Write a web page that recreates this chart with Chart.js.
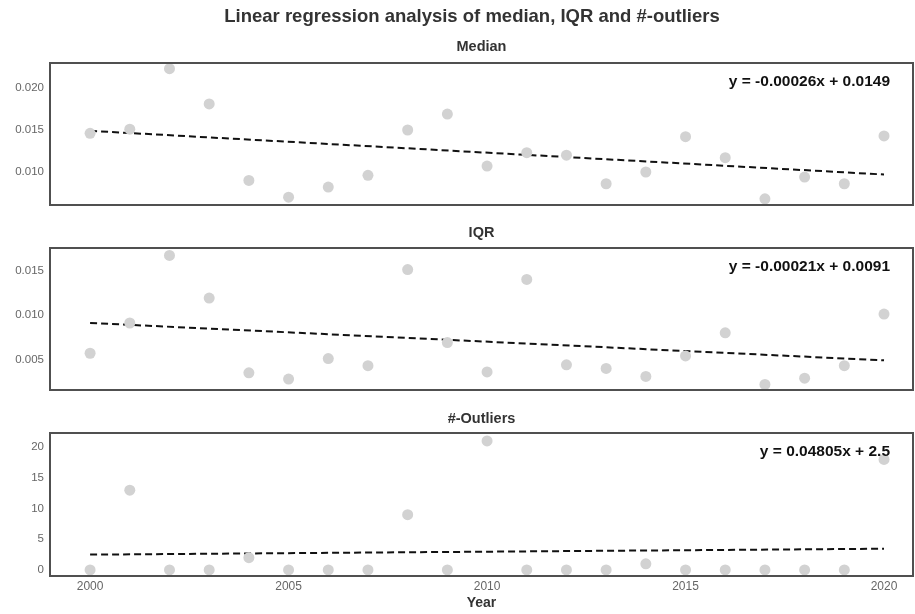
<!DOCTYPE html>
<html>
<head>
<meta charset="utf-8">
<script src="https://cdn.jsdelivr.net/npm/chart.js@4.4.1/dist/chart.umd.min.js"></script>
<style>
  body { margin: 0; background: #fff; }
  .wrap { position: relative; width: 915px; height: 614px; }
  canvas { position: absolute; left: 0; }
</style>
</head>
<body>
<div class="wrap">
  <canvas id="c1" width="915" height="212" style="top:0"></canvas>
  <canvas id="c2" width="915" height="186" style="top:212px"></canvas>
  <canvas id="c3" width="915" height="216" style="top:398px"></canvas>
</div>
<script>
// data
const years = [2000, 2001, 2002, 2003, 2004, 2005, 2006, 2007, 2008, 2009, 2010,
               2011, 2012, 2013, 2014, 2015, 2016, 2017, 2018, 2019, 2020]
const medianValues = [0.0146, 0.0151, 0.0223, 0.0181, 0.0090, 0.0070, 0.0082, 0.0096, 0.0150, 0.0169, 0.0107,
                      0.0123, 0.0120, 0.0086, 0.0100, 0.0142, 0.0117, 0.0068, 0.0094, 0.0086, 0.0143]
const iqrValues = [0.0057, 0.0091, 0.0167, 0.0119, 0.0035, 0.0028, 0.0051, 0.0043, 0.0151, 0.0069, 0.0036,
                   0.0140, 0.0044, 0.0040, 0.0031, 0.0054, 0.0080, 0.0022, 0.0029, 0.0043, 0.0101]
const outlierValues = [0, 13, 0, 0, 2, 0, 0, 0, 9, 0, 21,
                       0, 0, 0, 1, 0, 0, 0, 0, 0, 18]

// regression line ends (2000 and 2020)
const trendYears = [2000, 2020]
const medianTrend = [0.0149, 0.0097]
const iqrTrend = [0.0091, 0.0049]
const outlierTrend = [2.5, 3.46]

const medianTicks = [0.010, 0.015, 0.020]
const iqrTicks = [0.005, 0.010, 0.015]
const outlierTicks = [0, 5, 10, 15, 20]
const yearTicks = [2000, 2005, 2010, 2015, 2020]

const mainTitle = 'Linear regression analysis of median, IQR and #-outliers'

const FONT = '"Liberation Sans", Arial, sans-serif'
Chart.defaults.font.family = FONT
Chart.defaults.animation = false

function pts(xs, ys) {
    return xs.map((x, i) => ({ x: x, y: ys[i] }))
}

// frame, panel titles and the equation text
const panelDeco = {
    id: 'panelDeco',
    afterDraw(chart, args, opts) {
        const ctx = chart.ctx
        const a = chart.chartArea
        ctx.save()
        ctx.strokeStyle = '#505050'
        ctx.lineWidth = 2
        ctx.strokeRect(a.left, a.top, a.right - a.left, a.bottom - a.top)
        ctx.textAlign = 'center'
        ctx.textBaseline = 'middle'
        const cx = (a.left + a.right) / 2
        if (opts.main) {
            ctx.fillStyle = '#333'
            ctx.font = 'bold 18.5px ' + FONT
            ctx.fillText(opts.main, opts.mainX, opts.mainY)
        }
        ctx.fillStyle = '#333'
        ctx.font = 'bold 14.5px ' + FONT
        ctx.fillText(opts.title, cx, opts.titleY)
        ctx.fillStyle = '#111'
        ctx.font = 'bold 15.5px ' + FONT
        ctx.textAlign = 'right'
        ctx.fillText(opts.eq, a.right - 23, a.top + 19)
        ctx.restore()
    }
}

function makePanel(id, values, trend, ticks, yMin, yMax, deco, pad, showX) {
    const ctx = document.getElementById(id).getContext('2d')
    return new Chart(ctx, {
        type: 'scatter',
        data: {
            datasets: [{
                data: pts(years, values),
                backgroundColor: '#d2d2d2',
                borderWidth: 0,
                pointRadius: 5.5
            }, {
                type: 'line',
                data: pts(trendYears, trend),
                borderColor: '#111',
                borderWidth: 2,
                borderDash: [7, 4],
                pointRadius: 0,
                fill: false
            }]
        },
        options: {
            responsive: false,
            layout: { padding: pad, autoPadding: false },
            plugins: {
                legend: { display: false },
                tooltip: { enabled: false },
                panelDeco: deco
            },
            scales: {
                x: {
                    type: 'linear',
                    min: 1998.99,
                    max: 2020.73,
                    display: showX,
                    grid: { display: false, drawTicks: false },
                    border: { display: false },
                    afterBuildTicks: (s) => { s.ticks = yearTicks.map(v => ({ value: v })) },
                    afterFit: (s) => { if (showX) s.height = 38 },
                    ticks: {
                        color: '#666',
                        font: { size: 12 },
                        padding: 3,
                        maxRotation: 0,
                        callback: (v) => String(v)
                    },
                    title: {
                        display: true,
                        text: 'Year',
                        color: '#333',
                        font: { size: 14, weight: 'bold' },
                        padding: { top: 0, bottom: 2 }
                    }
                },
                y: {
                    min: yMin,
                    max: yMax,
                    grid: { display: false, drawTicks: false },
                    border: { display: false },
                    afterBuildTicks: (s) => { s.ticks = ticks.map(v => ({ value: v })) },
                    afterFit: (s) => {
                        s.width = 50
                        s.paddingTop = 0
                        s.paddingBottom = 0
                    },
                    ticks: {
                        color: '#666',
                        font: { size: 11.5 },
                        padding: 6,
                        callback: (v) => yMax > 1 ? String(v) : v.toFixed(3)
                    }
                }
            }
        },
        plugins: [panelDeco]
    })
}

makePanel('c1', medianValues, medianTrend, medianTicks, 0.00607, 0.02298,
    { main: mainTitle, mainX: 472, mainY: 17, title: 'Median', titleY: 47, eq: 'y = -0.00026x + 0.0149' },
    { top: 63, bottom: 7, left: 0, right: 2 }, false)

makePanel('c2', iqrValues, iqrTrend, iqrTicks, 0.00157, 0.01753,
    { title: 'IQR', titleY: 21, eq: 'y = -0.00021x + 0.0091' },
    { top: 36, bottom: 8, left: 0, right: 2 }, false)

makePanel('c3', outlierValues, outlierTrend, outlierTicks, -0.98, 22.3,
    { title: '#-Outliers', titleY: 21, eq: 'y = 0.04805x + 2.5' },
    { top: 35, bottom: 0, left: 0, right: 2 }, true)
</script>
</body>
</html>
